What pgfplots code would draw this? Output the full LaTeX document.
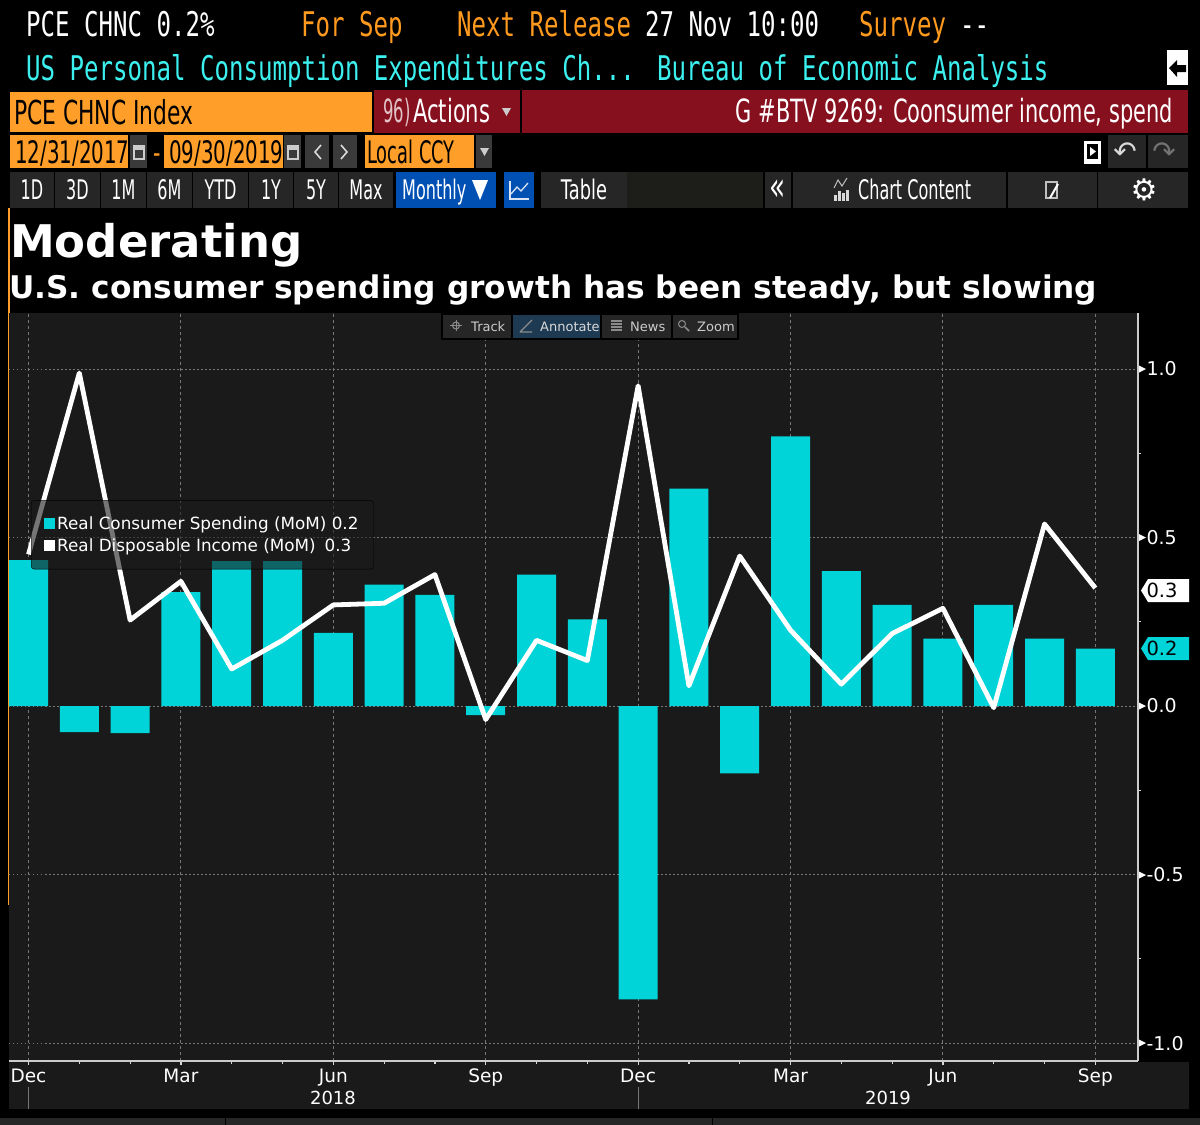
\documentclass[border=0pt]{standalone}
\usepackage{fontspec}
\usepackage{graphicx}
\usepackage{pgfplots}
\usepackage{pgfplotstable}
\pgfplotsset{compat=1.18}
\setmainfont{DejaVu Sans}
\newfontfamily\bbg[FakeStretch=0.66]{DejaVu Sans}
\newfontfamily\bbgm[FakeStretch=0.708]{DejaVu Sans Mono}

\definecolor{bbgorange}{HTML}{FF9E28}
\definecolor{bbgtext}{HTML}{FF9A1E}
\definecolor{bbgcyan}{HTML}{3DF0F0}
\definecolor{bbgred}{HTML}{87101E}
\definecolor{bbgblue}{HTML}{0050B4}
\definecolor{btn}{HTML}{262626}
\definecolor{btnlight}{HTML}{3A3A3A}
\definecolor{btndark}{HTML}{1D1D1A}
\definecolor{annot}{HTML}{1E3A52}
\definecolor{plotbg}{HTML}{1A1A1A}
\definecolor{barcyan}{HTML}{00D4D8}
\definecolor{gridc}{HTML}{777777}

% month index (0 = Dec 2017), real spending, real disposable income
\pgfplotstableread{
m  spend  income
0   0.433  0.45
1  -0.077  0.988
2  -0.080  0.255
3   0.338  0.37
4   0.430  0.11
5   0.430  0.195
6   0.217  0.30
7   0.360  0.305
8   0.330  0.39
9  -0.027 -0.04
10  0.390  0.195
11  0.257  0.135
12 -0.870  0.95
13  0.645  0.06
14 -0.200  0.445
15  0.800  0.225
16  0.400  0.065
17  0.300  0.215
18  0.200  0.29
19  0.300 -0.005
20  0.200  0.54
21  0.170  0.35
}\pcedata

% \hd[x scale]{size}{text}, \hm{text} for the two monospaced header lines
\newcommand\hd[3][1]{\scalebox{#1}[1]{\bbg\fontsize{#2}{#2}\selectfont #3}}
\newcommand\hm[1]{{\bbgm\fontsize{34}{34}\selectfont #1}}

\begin{document}
\begin{tikzpicture}[x=1pt,y=-1pt,
  t/.style={anchor=base west,inner sep=0pt,text=white},
  c/.style={anchor=base,inner sep=0pt,text=white}]
\fill[black] (0,0) rectangle (1200,1125);
\useasboundingbox (0,0) rectangle (1200,1125);

% header lines
\node[t] at (26,36) {\hm{PCE CHNC 0.2\%}};
\node[t,text=bbgtext] at (301,36) {\hm{For Sep}};
\node[t,text=bbgtext] at (457,36) {\hm{Next Release}};
\node[t] at (645,36) {\hm{27 Nov 10:00}};
\node[t,text=bbgtext] at (859,36) {\hm{Survey}};
\node[t] at (960,36) {\hm{-{}-}};
\node[t,text=bbgcyan] at (26,80) {\hm{US Personal Consumption Expenditures Ch...}};
\node[t,text=bbgcyan] at (657,80) {\hm{Bureau of Economic Analysis}};
\fill[white] (1167,50) rectangle (1188,85);
\fill[black] (1169,68) -- (1177,60) -- (1177,65) -- (1186,65) -- (1186,72) -- (1177,72) -- (1177,77) -- cycle;

% ticker row
\fill[bbgorange] (10,92) rectangle (372,132);
\node[t,text=black] at (14,124) {\hd{33}{PCE CHNC Index}};
\fill[bbgred] (374,90) rectangle (520,133);
\fill[bbgred] (522,90) rectangle (1188,133);
\node[t,text=white!75!bbgred] at (383,122) {\hd[0.78]{32}{96)}};
\node[t] at (413,122) {\hd{32}{Actions}};
\fill[white!80!black] (502,108) -- (511,108) -- (506.5,116) -- cycle;
\node[anchor=base east,inner sep=0pt,text=white] at (1173,122) {\hd[0.99]{32}{G \#BTV 9269: Coonsumer income, spend}};

% date row
\fill[bbgorange] (10,135) rectangle (128,168);
\node[t,text=black] at (15,163) {\hd[0.97]{31}{12/31/2017}};
\fill[btnlight] (130,135) rectangle (147,168);
\fill[bbgorange] (164,135) rectangle (283,168);
\node[t,text=black] at (169,163) {\hd[0.97]{31}{09/30/2019}};
\fill[btnlight] (284,135) rectangle (301,168);
\foreach \cx in {139,293}{
  \draw[white!80!black,line width=1.5pt] (\cx-5,146) rectangle (\cx+5,159);
  \fill[white!80!black] (\cx-5,146) rectangle (\cx+5,150);
}
\node[t,text=bbgtext] at (153,163) {\hd{31}{-}};
\fill[btnlight] (305,135) rectangle (329,168);
\fill[btnlight] (333,135) rectangle (357,168);
\draw[white!85!black,line width=1.6pt] (321,145) -- (315,152) -- (321,159);
\draw[white!85!black,line width=1.6pt] (341,145) -- (347,152) -- (341,159);
\fill[bbgorange] (365,135) rectangle (474,168);
\node[t,text=black] at (367,163) {\hd[0.87]{31}{Local CCY}};
\fill[btnlight] (476,135) rectangle (492,168);
\fill[white!80!black] (480,148) -- (489,148) -- (484.5,156) -- cycle;
\fill[white] (1084,141) rectangle (1101,164);
\fill[black] (1087,144) rectangle (1098,159);
\fill[white] (1090,147) -- (1096,151.5) -- (1090,156) -- cycle;
\fill[btn] (1108,135) rectangle (1146,168);
\fill[btn] (1148,135) rectangle (1188,168);
\node[anchor=center,inner sep=0pt,text=white!85!black] at (1125,152) {\fontsize{28}{28}\selectfont ↶};
\node[anchor=center,inner sep=0pt,text=white!45!black] at (1164,152) {\fontsize{28}{28}\selectfont ↷};

% toolbar row
\foreach \xa/\xb/\lab in {10/54/1D,55/100/3D,101/146/1M,147/192/6M,193/248/YTD,249/293/1Y,294/338/5Y,339/393/Max}{
  \fill[btn] (\xa,172) rectangle (\xb,208);
  \node[c] at ({(\xa+\xb)/2},199) {\hd[0.9]{27}{\lab}};
}
\fill[bbgblue] (396,172) rectangle (496,208);
\node[t] at (402,199) {\hd[0.9]{27}{Monthly}};
\fill[white] (472,180) -- (488,180) -- (480,200) -- cycle;
\fill[bbgblue] (504,172) rectangle (534,208);
\draw[white!85!bbgblue,line width=1.3pt] (510,181) -- (510,199) -- (529,199);
\draw[white!85!bbgblue,line width=1.3pt] (511,194) -- (517,187) -- (521,191) -- (528,183);
\fill[btn] (541,172) rectangle (627,208);
\node[c] at (584,199) {\hd{27}{Table}};
\fill[btndark] (627,172) rectangle (763,208);
\fill[btn] (765,172) rectangle (791,208);
\node[c] at (778,200) {\hd{40}{«}};
\fill[btn] (793,172) rectangle (1006,208);
\node[t] at (858,199) {\hd[0.9]{27}{Chart Content}};
\draw[white!75!black,line width=1pt] (834,188) -- (838,180) -- (842,186) -- (847,178);
\foreach \bx/\by in {834/195,838/191,842/193,846/190}{\fill[white!85!black] (\bx,201) rectangle (\bx+2.5,\by);}
\fill[btn] (1008,172) rectangle (1097,208);
\draw[white!75!black,line width=1.5pt] (1046,182) rectangle (1057,198);
\draw[white,line width=2pt] (1050,198) -- (1058,184);
\fill[btn] (1098,172) rectangle (1188,208);
\node[anchor=center,inner sep=0pt,text=white] at (1144,190) {\fontsize{30}{30}\selectfont\bfseries ⚙};

% titles
\draw[bbgorange,line width=1.6pt] (9,208) -- (9,905);
\node[t] at (10,257) {\fontsize{45}{45}\selectfont\bfseries Moderating};
\node[t] at (9,298) {\fontsize{31.2}{31.2}\selectfont\bfseries U.S. consumer spending growth has been steady, but slowing};

% band under the axis
\fill[plotbg] (9,1062) rectangle (1189,1109);
\fill[btn] (0,1118) rectangle (1200,1125);
\draw[black,line width=1pt] (225,1118) -- (225,1125);
\draw[black,line width=1pt] (712,1118) -- (712,1125);

\begin{axis}[
  at={(9pt,-1061pt)},anchor=south west,
  scale only axis,width=1129pt,height=748pt,
  xmin=-0.384,xmax=21.84,ymin=-1.053,ymax=1.166,
  axis background/.style={fill=plotbg},
  axis x line*=bottom,axis y line*=right,
  axis line style={draw=white!80!black,line width=1.5pt,-},
  xtick={0,3,...,21},minor x tick num=2,
  xticklabels={Dec,Mar,Jun,Sep,Dec,Mar,Jun,Sep},
  ytick={-1,-0.5,0,0.5,1},minor y tick num=1,
  yticklabels={-1.0,-0.5,0.0,0.5,1.0},
  tick align=outside,
  major tick length=4pt,minor tick length=3pt,
  tick style={draw=white!85!black,line width=1.2pt},
  grid=major,
  x grid style={draw=gridc,line width=0.9pt,dash pattern=on 3pt off 3pt},
  y grid style={draw=gridc,line width=0.9pt,dash pattern=on 1.5pt off 2.5pt},
  xticklabel style={text=white,font=\fontsize{18.5}{18.5}\selectfont,yshift=0pt},
  yticklabel style={text=white,font=\fontsize{19}{19}\selectfont,anchor=west,xshift=1pt},
  legend cell align=left,
  legend style={at={(rel axis cs:0.0195,0.7495)},anchor=north west,
    fill=plotbg,fill opacity=0.6,text opacity=1,draw=black,
    rounded corners=3pt,text=white,row sep=4pt,
    font=\fontsize{16.8}{22}\selectfont,
    inner xsep=13pt,inner ysep=14pt},
]
\addplot[ybar,bar width=39pt,fill=barcyan,draw=none,
  legend image code/.code={\path[fill=barcyan,draw=none,sharp corners,fill opacity=1] (0pt,-5.5pt) rectangle (11pt,5.5pt);}]
  table[x=m,y=spend] {\pcedata};
\addlegendentry{Real Consumer Spending (MoM) 0.2}
\addplot[white,line width=4.8pt,mark=none,line join=round,
  legend image code/.code={\path[fill=white,draw=none,sharp corners,fill opacity=1] (0pt,-5.5pt) rectangle (11pt,5.5pt);}]
  table[x=m,y=income] {\pcedata};
\addlegendentry{Real Disposable Income (MoM)\hspace{9pt}0.3}
\end{axis}

% y tick pointers and last-value tags
\foreach \ty in {369,537.5,706,875,1043}{
  \fill[white] (1139,\ty-3.5) -- (1146,\ty) -- (1139,\ty+3.5) -- cycle;
}
\fill[white] (1148,579) -- (1189,579) -- (1189,602) -- (1148,602) -- (1141,590.5) -- cycle;
\node[c,text=black] at (1162,597) {\fontsize{19.5}{19.5}\selectfont 0.3};
\fill[barcyan] (1148,637) -- (1189,637) -- (1189,660) -- (1148,660) -- (1141,648.5) -- cycle;
\node[c,text=black] at (1162,655) {\fontsize{19.5}{19.5}\selectfont 0.2};

% year row
\node[c] at (333,1104) {\fontsize{18}{18}\selectfont 2018};
\node[c] at (888,1104) {\fontsize{18}{18}\selectfont 2019};
\draw[gridc,line width=0.8pt] (28.5,1087) -- (28.5,1109);
\draw[gridc,line width=0.8pt] (638,1087) -- (638,1109);

% chart toolbar
\fill[black] (441,313) rectangle (739,340);
\fill[btn] (443,315) rectangle (511,338);
\fill[annot] (513,315) rectangle (600,338);
\fill[btn] (602,315) rectangle (671,338);
\fill[btn] (673,315) rectangle (737,338);
\draw[white!55!black,line width=1pt] (456,325.5) circle (3.5pt);
\draw[white!55!black,line width=1pt] (450,325.5) -- (462,325.5) (456,320) -- (456,331);
\draw[white!55!black,line width=1.2pt] (520,332) -- (532,320) (520,332) -- (532,332);
\foreach \ny in {321,324,327,330}{\draw[white!55!black,line width=1.5pt] (611,\ny) -- (622,\ny);}
\draw[white!55!black,line width=1pt] (682,324) circle (3.5pt);
\draw[white!55!black,line width=1.5pt] (685,327) -- (689,331);
\node[t,text=white!80!black] at (471,331) {\fontsize{13}{13}\selectfont Track};
\node[t,text=white!85!black] at (540,331) {\fontsize{13}{13}\selectfont Annotate};
\node[t,text=white!80!black] at (630,331) {\fontsize{13}{13}\selectfont News};
\node[t,text=white!80!black] at (697,331) {\fontsize{13}{13}\selectfont Zoom};
\end{tikzpicture}
\end{document}
